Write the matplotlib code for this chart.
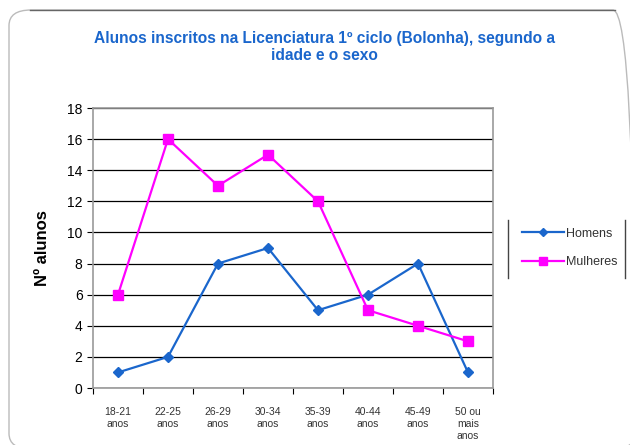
import matplotlib.pyplot as plt
from matplotlib.patches import FancyBboxPatch
from matplotlib.lines import Line2D

faixas = ["18-21\nanos", "22-25\nanos", "26-29\nanos", "30-34\nanos",
          "35-39\nanos", "40-44\nanos", "45-49\nanos", "50 ou\nmais\nanos"]
homens = [1, 2, 8, 9, 5, 6, 8, 1]
mulheres = [6, 16, 13, 15, 12, 5, 4, 3]

plt.rcParams['font.family'] = ['Liberation Sans', 'DejaVu Sans']

fig = plt.figure(figsize=(6.3, 4.45), dpi=100)
# moldura exterior arredondada, cortada pelas margens da imagem
fig.patches.append(FancyBboxPatch((9 / 630, -4 / 445), 626 / 630, 439 / 445,
                                  boxstyle="round,pad=0,rounding_size=0.035",
                                  transform=fig.transFigure, fill=False, edgecolor='#bbbbbb', lw=1))
fig.add_artist(Line2D([30 / 630, 615 / 630], [1 - 10 / 445] * 2, transform=fig.transFigure,
                      color='#666666', lw=1))
ax = fig.add_axes([93 / 630, 1 - 388 / 445, 400 / 630, 280 / 445])

x = range(len(faixas))
ax.plot(x, homens, color='#1a66cc', marker='D', markersize=5, lw=1.6, label='Homens')
ax.plot(x, mulheres, color='#ff00ff', marker='s', markersize=6.5, lw=1.6, label='Mulheres')

ax.set_xlim(-0.5, len(faixas) - 0.5)
ax.set_ylim(0, 18)
ax.set_yticks(range(0, 19, 2))
ax.set_xticks([i + 0.5 for i in range(-1, len(faixas))])
ax.set_xticklabels([])
ax.set_xticks(list(x), minor=True)
ax.set_xticklabels(faixas, minor=True, fontsize=7.5, color='#333333')
ax.tick_params(axis='x', which='minor', length=0, pad=14)
ax.tick_params(axis='x', which='major', length=4)
ax.tick_params(axis='y', labelsize=10, length=4)
ax.yaxis.grid(True, color='black', lw=0.9)
ax.set_axisbelow(True)
for s in ax.spines.values():
    s.set_color('#999999')
    s.set_linewidth(1.2)

ax.set_ylabel('Nº alunos', fontsize=12, fontweight='bold', labelpad=12)

fig.text(0.515, 1 - 47 / 445, 'Alunos inscritos na Licenciatura 1º ciclo (Bolonha), segundo a\nidade e o sexo',
         ha='center', va='center', fontsize=11.2, fontweight='bold', color='#1a66cc', linespacing=1.25)

leg = ax.legend(loc='center left', bbox_to_anchor=(1.045, 0.5), frameon=False, fontsize=9,
                handlelength=3.3, handletextpad=0.2, labelspacing=1.3, markerscale=0.8)
for t in leg.get_texts():
    t.set_color('#333333')
for xl in (508 / 630, 625 / 630):
    fig.add_artist(Line2D([xl, xl], [1 - 278 / 445, 1 - 220 / 445], transform=fig.transFigure,
                          color='#444444', lw=1))

plt.savefig('out.png', dpi=100)
